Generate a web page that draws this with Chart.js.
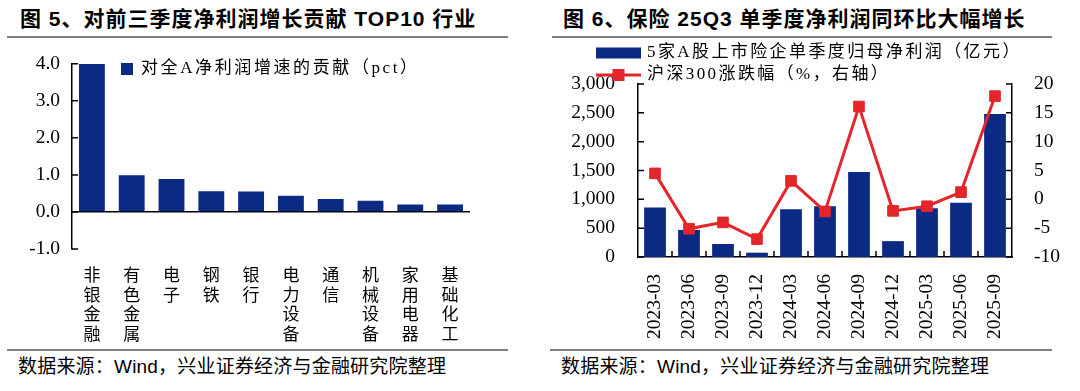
<!DOCTYPE html>
<html>
<head>
<meta charset="utf-8">
<script src="https://cdn.jsdelivr.net/npm/chart.js@4.4.1/dist/chart.umd.min.js"></script>
<style>
  body { margin: 0; width: 1080px; height: 391px; background: #fff; position: relative; overflow: hidden;
         font-family: 'Liberation Sans', 'Noto Sans CJK SC', sans-serif; color: #000; }
  .title { position: absolute; top: 6px; font-size: 21px; font-weight: bold; line-height: 26px; white-space: nowrap; letter-spacing: 1px; }
  .rule { position: absolute; height: 2px; background: #808080; }
  .src { position: absolute; top: 355px; font-size: 19px; line-height: 24px; white-space: nowrap; letter-spacing: 0.2px; }
  canvas { position: absolute; top: 40px; }
</style>
</head>
<body>
<div class="title" style="left:20px">图 5、对前三季度净利润增长贡献 TOP10 行业</div>
<div class="rule" style="left:7px;width:501px;top:36px"></div>
<canvas id="left" width="540" height="305" style="left:0"></canvas>
<div class="rule" style="left:7px;width:501px;top:349px"></div>
<div class="src" style="left:18px">数据来源：Wind，兴业证券经济与金融研究院整理</div>

<div class="title" style="left:563px">图 6、保险 25Q3 单季度净利润同环比大幅增长</div>
<div class="rule" style="left:552px;width:500px;top:36px"></div>
<canvas id="right" width="540" height="305" style="left:540px"></canvas>
<div class="rule" style="left:550px;width:502px;top:349px"></div>
<div class="src" style="left:561px">数据来源：Wind，兴业证券经济与金融研究院整理</div>

<script>
// left chart: contribution to A-share net profit growth (pct)
const industries = ['非银金融', '有色金属', '电子', '钢铁', '银行', '电力设备', '通信', '机械设备', '家用电器', '基础化工'];
const contribution = [3.99, 0.99, 0.89, 0.56, 0.55, 0.44, 0.35, 0.30, 0.20, 0.20];
const contributionLabel = '对全A净利润增速的贡献（pct）';

// right chart: insurers quarterly profit vs CSI 300
const quarters = ['2023-03', '2023-06', '2023-09', '2023-12', '2024-03', '2024-06', '2024-09', '2024-12', '2025-03', '2025-06', '2025-09'];
const insurerProfit = [860, 470, 225, 75, 830, 880, 1475, 275, 845, 940, 2480];
const csi300Change = [4.5, -5.1, -4.0, -6.9, 3.2, -2.1, 16.1, -2.0, -1.2, 1.25, 17.9];
const profitLabel = '5家A股上市险企单季度归母净利润（亿元）';
const csiLabel = '沪深300涨跌幅（%，右轴）';

const NAVY = '#0b2a84';
const RED = '#e3262b';
const SERIF = "'Liberation Serif', 'Noto Sans CJK SC', serif";

Chart.defaults.font.family = SERIF;
Chart.defaults.color = '#000';

// short tick marks drawn inward from the axis line
const innerTicks = {
  id: 'innerTicks',
  afterDatasetsDraw(chart, args, opts) {
    const ctx = chart.ctx;
    const len = opts.length || 6;
    ctx.save();
    ctx.strokeStyle = '#000';
    ctx.lineWidth = 1.5;
    ctx.beginPath();
    (opts.axes || []).forEach(id => {
      const s = chart.scales[id];
      if (s.isHorizontal()) {
        for (let i = 1; i < s.ticks.length; i++) {
          const x = (s.getPixelForTick(i - 1) + s.getPixelForTick(i)) / 2;
          ctx.moveTo(x, s.top);
          ctx.lineTo(x, s.top - len);
        }
      } else {
        const onLeft = s.position === 'left';
        const x = onLeft ? s.right : s.left;
        s.ticks.forEach((t, i) => {
          const y = s.getPixelForTick(i);
          ctx.moveTo(x, y);
          ctx.lineTo(onLeft ? x + len : x - len, y);
        });
      }
    });
    ctx.stroke();
    ctx.restore();
  }
};

// simple legend placed by hand, one row per dataset
const boxLegend = {
  id: 'boxLegend',
  afterDraw(chart, args, opts) {
    const ctx = chart.ctx;
    ctx.save();
    ctx.font = opts.font;
    ctx.textBaseline = 'middle';
    if ('letterSpacing' in ctx) ctx.letterSpacing = opts.spacing || '0px';
    chart.data.datasets.forEach((ds, i) => {
      const x = opts.x;
      const y = opts.y + i * (opts.rowGap || 0);
      if (ds.type === 'line') {
        ctx.strokeStyle = ds.borderColor;
        ctx.lineWidth = ds.borderWidth;
        ctx.beginPath();
        ctx.moveTo(x, y);
        ctx.lineTo(x + opts.boxW, y);
        ctx.stroke();
        ctx.fillStyle = ds.pointBackgroundColor;
        ctx.fillRect(x + opts.boxW / 2 - 6, y - 6, 12, 12);
      } else {
        ctx.fillStyle = ds.backgroundColor;
        ctx.fillRect(x, y - opts.boxH / 2, opts.boxW, opts.boxH);
      }
      ctx.fillStyle = '#000';
      ctx.fillText(ds.label, x + opts.boxW + opts.gap, y);
    });
    ctx.restore();
  }
};

new Chart(document.getElementById('left'), {
  type: 'bar',
  data: {
    labels: industries.map(s => s.split('')),
    datasets: [{
      label: contributionLabel,
      data: contribution,
      backgroundColor: NAVY,
      categoryPercentage: 1,
      barPercentage: 0.65
    }]
  },
  options: {
    responsive: false,
    animation: false,
    layout: { padding: { top: 14, right: 70, left: 0, bottom: 0 } },
    plugins: {
      legend: { display: false },
      tooltip: { enabled: false },
      innerTicks: { axes: ['y'], length: 6 },
      boxLegend: { x: 121, y: 29, boxW: 12, boxH: 12, gap: 8, spacing: '2.6px',
                   font: "17px 'Liberation Serif', 'Noto Sans CJK SC', serif" }
    },
    scales: {
      x: {
        grid: { display: false },
        border: { display: false },
        ticks: { font: { size: 17, family: "'Noto Sans CJK SC', sans-serif", lineHeight: 1.15 },
                 padding: 8, maxRotation: 0, autoSkip: false },
        afterFit: s => { s.height = 96; }
      },
      y: {
        min: -1, max: 4,
        grid: {
          drawTicks: false,
          lineWidth: 1.5,
          color: c => (c.tick && c.tick.value === 0) ? '#000' : 'rgba(0,0,0,0)'
        },
        border: { color: '#000', width: 1.5 },
        ticks: { stepSize: 1, padding: 12, font: { size: 19.5 }, callback: v => v.toFixed(1) },
        afterFit: s => { s.width = 72; }
      }
    }
  },
  plugins: [innerTicks, boxLegend]
});

new Chart(document.getElementById('right'), {
  data: {
    labels: quarters,
    datasets: [{
      type: 'bar',
      label: profitLabel,
      data: insurerProfit,
      backgroundColor: NAVY,
      categoryPercentage: 1,
      barPercentage: 0.64,
      yAxisID: 'y',
      order: 1
    }, {
      type: 'line',
      label: csiLabel,
      data: csi300Change,
      borderColor: RED,
      borderWidth: 3,
      pointStyle: 'rect',
      pointRadius: 7.5,
      pointBackgroundColor: RED,
      pointBorderColor: RED,
      pointBorderWidth: 1,
      tension: 0,
      yAxisID: 'y1',
      order: 0
    }]
  },
  options: {
    responsive: false,
    animation: false,
    layout: { padding: { top: 44, right: 0, left: 0, bottom: 0 } },
    plugins: {
      legend: { display: false },
      tooltip: { enabled: false },
      innerTicks: { axes: ['x', 'y', 'y1'], length: 6 },
      boxLegend: { x: 56, y: 13, rowGap: 22, boxW: 45, boxH: 11, gap: 6, spacing: '2.4px',
                   font: "17px 'Liberation Serif', 'Noto Sans CJK SC', serif" }
    },
    scales: {
      x: {
        grid: { display: false },
        border: { color: '#000', width: 1.5 },
        ticks: { font: { size: 19.5 }, padding: 9, minRotation: 90, maxRotation: 90, autoSkip: false },
        afterFit: s => { s.height = 88; }
      },
      y: {
        position: 'left',
        min: 0, max: 3000,
        grid: { display: false },
        border: { color: '#000', width: 1.5 },
        ticks: { stepSize: 500, padding: 15, font: { size: 19.5 }, callback: v => v.toLocaleString('en-US') },
        afterFit: s => { s.width = 98; }
      },
      y1: {
        position: 'right',
        min: -10, max: 20,
        grid: { display: false },
        border: { color: '#000', width: 1.5 },
        ticks: { stepSize: 5, padding: 14, font: { size: 19.5 } },
        afterFit: s => { s.width = 68; }
      }
    }
  },
  plugins: [innerTicks, boxLegend]
});
</script>
</body>
</html>
